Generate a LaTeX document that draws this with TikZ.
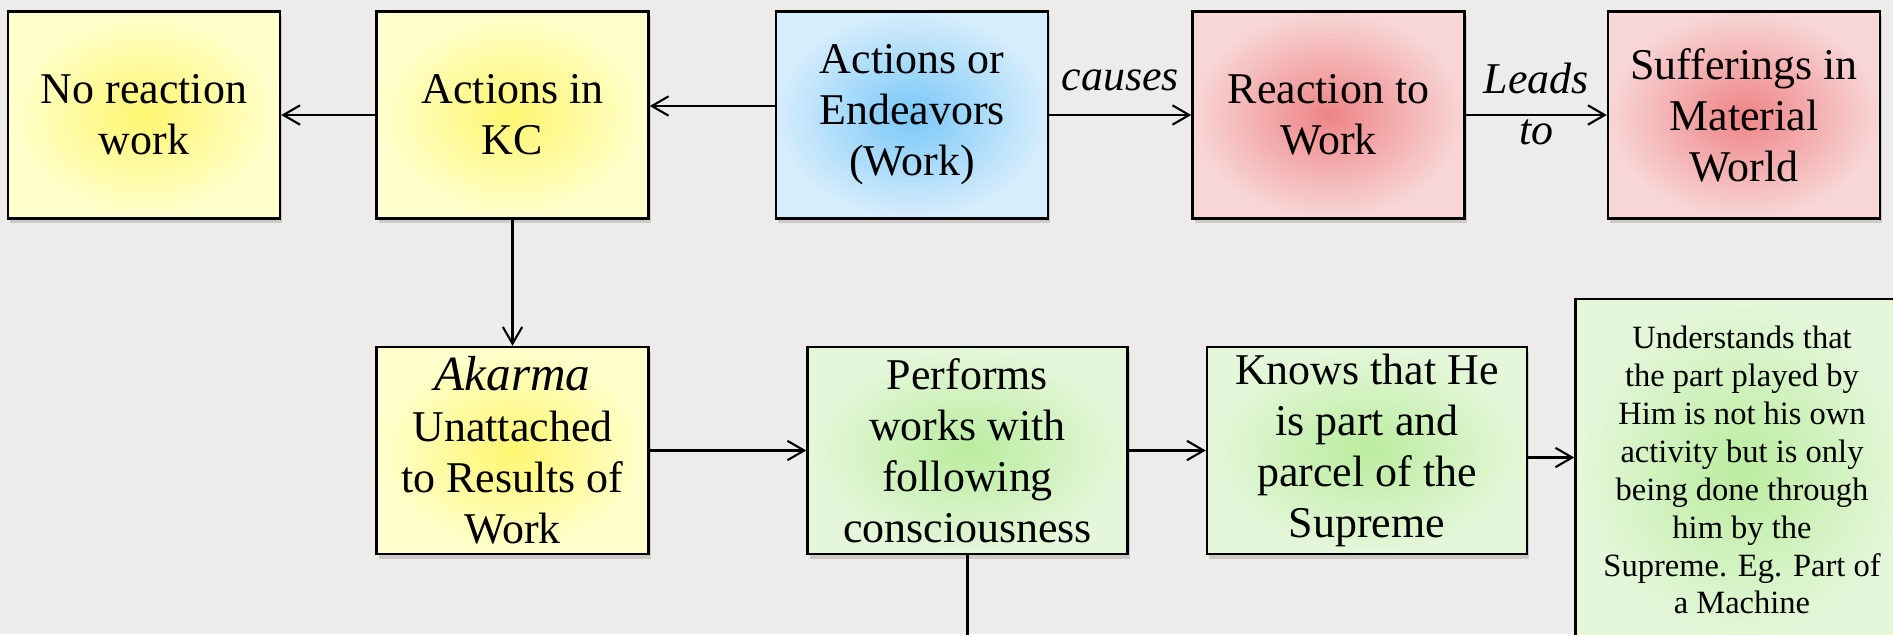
\documentclass[tikz,border=0pt]{standalone}
\usepackage{fontspec}
\setmainfont{Liberation Serif}
\newfontfamily\boxfont{Liberation Serif}
\usetikzlibrary{arrows.meta,shadows}

\definecolor{bgcol}{RGB}{237,236,234}
\definecolor{ylwin}{RGB}{255,246,112}
\definecolor{ylwout}{RGB}{255,255,206}
\definecolor{bluin}{RGB}{122,200,248}
\definecolor{bluout}{RGB}{214,237,252}
\definecolor{redin}{RGB}{238,132,134}
\definecolor{redout}{RGB}{248,214,214}
\definecolor{grnin}{RGB}{186,236,158}
\definecolor{grnout}{RGB}{229,247,219}

\tikzset{
	box/.style={draw=black, line width=1.4pt, rectangle, align=center,
		minimum width=54.4mm, minimum height=41.4mm, inner sep=2pt,
		font=\boxfont\fontsize{25}{29}\selectfont,
		drop shadow={shadow xshift=0.4mm, shadow yshift=-0.9mm, opacity=0.3}},
	ylwbox/.style={box, inner color=ylwin, outer color=ylwout},
	blubox/.style={box, inner color=bluin, outer color=bluout},
	redbox/.style={box, inner color=redin, outer color=redout},
	grnbox/.style={box, inner color=grnin, outer color=grnout},
	arr/.style={-{Straight Barb[length=9.5pt,width=11pt]}, line width=1.2pt},
	lbl/.style={font=\boxfont\fontsize{25}{29}\selectfont\itshape, inner sep=0pt},
}

\begin{document}
\begin{tikzpicture}[x=0.2mm, y=-0.2mm]
	\useasboundingbox (0,0) rectangle (1893,634);
	\clip (0,0) rectangle (1893,634);
	\fill[bgcol] (0,0) rectangle (1893,634);

	% top row
	\node[ylwbox] (nowork) at (144,115) {No reaction\\work};
	\node[ylwbox] (kc) at (512.5,115) {Actions in\\KC};
	\node[blubox] (endv) at (912,115) {Actions or\\Endeavors\\(Work)};
	\node[redbox] (react) at (1328.5,115) {Reaction to\\Work};
	\node[redbox] (suffer) at (1744,115) {Sufferings in\\Material\\World};

	% bottom row
	\node[ylwbox] (akarma) at (512.5,450.5)
		{{\fontsize{28}{29}\selectfont\itshape Akarma}\\Unattached\\to Results of\\Work};
	\node[grnbox, minimum width=64mm] (perf) at (967.5,450.5)
		{Performs\\works with\\following\\consciousness};
	\node[grnbox, minimum width=64mm] (knows) at (1367,450.5)
		{Knows that He\\is part and\\parcel of the\\Supreme};
	\node[grnbox, minimum width=66.6mm, minimum height=68.4mm,
		font=\boxfont\fontsize{18.5}{21.6}\selectfont] (und) at (1742,470)
		{Understands that\\the part played by\\Him is not his own\\activity but is only\\being done through\\him by the\\Supreme. Eg. Part of\\a Machine};
	\coordinate (perfdown) at (967.5,660);

	% connectors
	\draw[arr] (kc) -- (nowork);
	\draw[arr] ([yshift=1.8mm]endv.west) -- ([yshift=1.8mm]endv.west -| kc.east);
	\draw[arr] (endv) -- node[lbl, above=4.6mm] {causes} (react);
	\draw[arr] (react) -- node[lbl, align=center, yshift=2.2mm] {Leads\\to} (suffer);
	\draw[arr] (kc) -- (akarma);
	\draw[arr] (akarma) -- (perf);
	\draw[arr] (perf) -- (knows);
	\draw[arr] ([yshift=-1.4mm]knows.east) -- ([yshift=-1.4mm]knows.east -| und.west);
	\draw[line width=1.2pt] (perf.south) -- (perfdown);
\end{tikzpicture}
\end{document}
